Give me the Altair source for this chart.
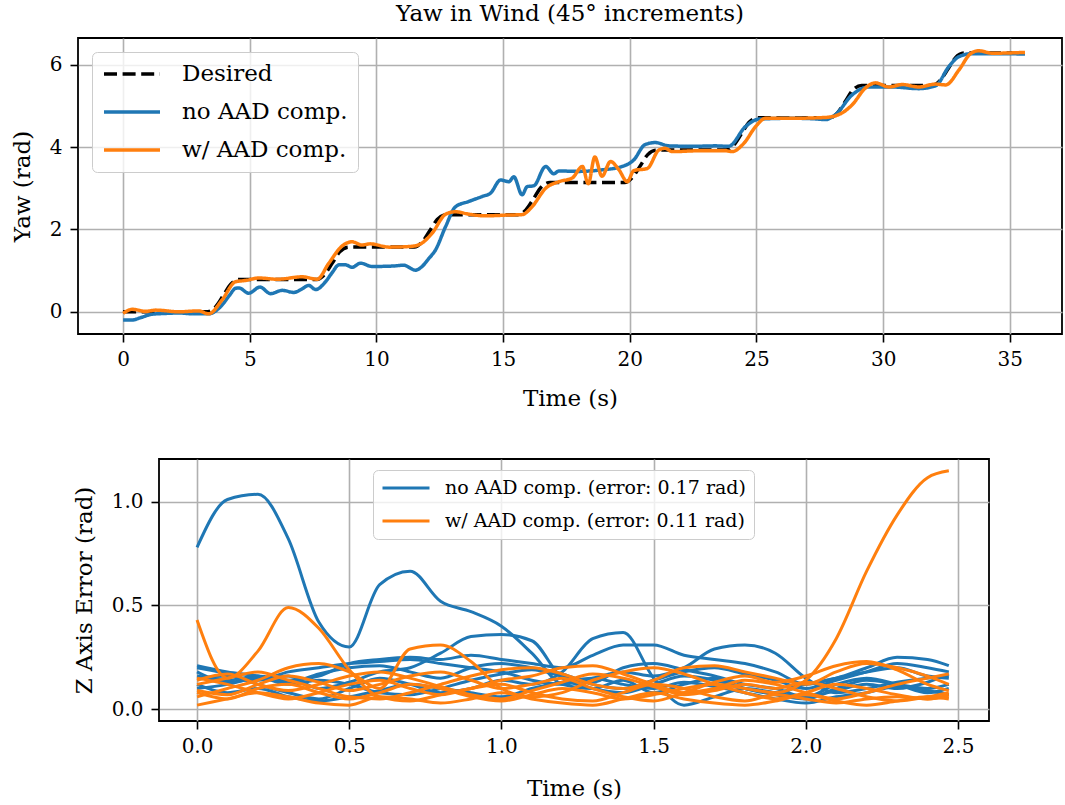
import altair as alt
import pandas as pd

FONT = "DejaVu Serif"
BLUE = "#1f77b4"
ORANGE = "#ff7f0e"

# ---------------- top panel data ----------------
DES_T = [0, 3.35, 3.65, 3.95, 4.25, 4.6,
         7.65, 7.95, 8.25, 8.55, 8.9,
         11.5, 11.8, 12.1, 12.4, 12.75,
         15.6, 15.9, 16.2, 16.5, 16.85,
         19.8, 20.1, 20.4, 20.7, 21.05,
         23.8, 24.1, 24.4, 24.7, 25.05,
         27.9, 28.2, 28.5, 28.8, 29.15,
         31.95, 32.25, 32.55, 32.85, 33.2, 35.6]
DES_Y = [0.0, 0.0, 0.12, 0.39, 0.67, 0.785,
         0.785, 0.905, 1.175, 1.455, 1.571,
         1.571, 1.691, 1.961, 2.241, 2.356,
         2.356, 2.476, 2.746, 3.026, 3.142,
         3.142, 3.262, 3.532, 3.812, 3.927,
         3.927, 4.047, 4.317, 4.597, 4.712,
         4.712, 4.832, 5.102, 5.382, 5.498,
         5.498, 5.618, 5.888, 6.168, 6.283, 6.283]

NO_AAD_T = [0, 0.36, 0.7, 1.15, 1.7, 2.2, 2.8, 3.38, 3.9, 4.2, 4.44, 4.57, 4.96, 5.4, 5.82,
            6.28, 6.74, 7.05, 7.33, 7.6, 7.99, 8.25, 8.52, 8.78, 9.04, 9.37, 9.83, 10.62,
            11.08, 11.54, 11.8, 12.05, 12.33, 12.73, 13.12, 13.65, 14.17, 14.5, 14.9, 15.23,
            15.42, 15.75, 15.95, 16.21, 16.68, 17.0, 17.2, 18.0, 18.8, 19.7, 20.16, 20.6,
            21.0, 21.54, 22.47, 23.4, 23.9, 24.57, 25.1, 26.4, 27.2, 27.73, 28.12, 28.78,
            29.44, 30.36, 31.4, 32.07, 32.6, 33.0, 33.5, 34.5, 35.6]
NO_AAD_Y = [-0.20, -0.20, -0.14, -0.06, -0.04, -0.03, -0.05, -0.05, 0.16, 0.40, 0.57, 0.58,
            0.45, 0.60, 0.44, 0.52, 0.47, 0.55, 0.64, 0.54, 0.73, 0.95, 1.14, 1.14, 1.08,
            1.18, 1.10, 1.11, 1.13, 1.01, 1.10, 1.28, 1.50, 2.07, 2.55, 2.68, 2.80, 2.88,
            3.20, 3.16, 3.28, 2.84, 3.04, 3.06, 3.53, 3.35, 3.42, 3.41, 3.44, 3.53, 3.69,
            4.06, 4.11, 4.03, 4.02, 4.03, 4.02, 4.50, 4.68, 4.70, 4.69, 4.67, 4.79, 5.27,
            5.46, 5.46, 5.42, 5.49, 5.96, 6.20, 6.27, 6.27, 6.26]

W_AAD_T = [0, 0.36, 0.89, 1.3, 2.2, 2.98, 3.38, 3.9, 4.44, 4.83, 5.36, 6.1, 7.07, 7.66,
           8.12, 8.65, 9.04, 9.43, 9.75, 10.5, 11.4, 11.8, 12.2, 12.73, 13.12, 13.65, 14.3,
           15.2, 15.75, 16.14, 16.68, 17.2, 17.73, 18.13, 18.36, 18.62, 18.9, 19.24, 19.57,
           19.9, 20.16, 20.69, 21.15, 21.4, 21.67, 22.7, 23.78, 24.04, 24.5, 24.97, 25.36,
           26.4, 27.73, 28.38, 28.78, 29.31, 29.7, 30.23, 30.76, 31.4, 32.07, 32.47, 33.0,
           33.45, 33.77, 34.3, 35.6]
W_AAD_Y = [-0.04, 0.06, 0.01, 0.04, 0.0, 0.02, -0.05, 0.28, 0.73, 0.76, 0.82, 0.79, 0.85,
           0.79, 1.18, 1.60, 1.70, 1.62, 1.65, 1.57, 1.59, 1.67, 1.91, 2.37, 2.43, 2.37,
           2.33, 2.35, 2.36, 2.55, 3.00, 3.16, 3.25, 3.53, 3.11, 3.76, 3.29, 3.65, 3.45,
           3.16, 3.43, 3.48, 3.93, 3.97, 3.89, 3.91, 3.91, 3.89, 4.09, 4.50, 4.70, 4.70,
           4.72, 4.83, 5.03, 5.44, 5.56, 5.46, 5.52, 5.46, 5.53, 5.51, 5.88, 6.27, 6.34,
           6.28, 6.30]

TOP_SERIES = ["Desired", "no AAD comp.", "w/ AAD comp."]

# ---------------- bottom panel data ----------------
ERR_T = [0.0, 0.1, 0.2, 0.3, 0.4, 0.5, 0.6, 0.7, 0.8, 0.9, 1.0, 1.1, 1.2,
         1.3, 1.4, 1.5, 1.6, 1.7, 1.8, 1.9, 2.0, 2.1, 2.2, 2.3, 2.4, 2.47]

NO_AAD_ERR = [
    [0.78, 1.01, 1.035, 0.82, 0.42, 0.30, 0.60, 0.665, 0.52, 0.47, 0.40, 0.27, 0.12,
     0.10, 0.14, 0.08, 0.12, 0.15, 0.10, 0.07, 0.05, 0.10, 0.14, 0.12, 0.10, 0.12],
    [0.18, 0.13, 0.15, 0.16, 0.10, 0.13, 0.18, 0.20, 0.27, 0.35, 0.36, 0.33, 0.15,
     0.10, 0.08, 0.12, 0.16, 0.14, 0.10, 0.08, 0.12, 0.15, 0.18, 0.20, 0.16, 0.15],
    [0.20, 0.17, 0.12, 0.08, 0.05, 0.10, 0.15, 0.12, 0.08, 0.10, 0.14, 0.12, 0.18,
     0.34, 0.37, 0.15, 0.02, 0.06, 0.10, 0.08, 0.06, 0.12, 0.15, 0.12, 0.08, 0.10],
    [0.15, 0.16, 0.14, 0.18, 0.20, 0.22, 0.23, 0.24, 0.22, 0.20, 0.18, 0.14, 0.12,
     0.15, 0.18, 0.16, 0.20, 0.29, 0.31, 0.27, 0.15, 0.08, 0.10, 0.13, 0.15, 0.16],
    [0.16, 0.14, 0.16, 0.14, 0.16, 0.22, 0.24, 0.25, 0.24, 0.26, 0.24, 0.22, 0.20,
     0.26, 0.31, 0.31, 0.26, 0.24, 0.22, 0.18, 0.12, 0.15, 0.20, 0.25, 0.24, 0.21],
    [0.10, 0.12, 0.15, 0.13, 0.17, 0.20, 0.21, 0.18, 0.15, 0.20, 0.22, 0.20, 0.17,
     0.12, 0.10, 0.14, 0.18, 0.20, 0.17, 0.14, 0.10, 0.14, 0.18, 0.22, 0.20, 0.18],
    [0.12, 0.08, 0.10, 0.06, 0.04, 0.06, 0.09, 0.12, 0.10, 0.08, 0.06, 0.10, 0.13,
     0.15, 0.12, 0.10, 0.13, 0.11, 0.08, 0.05, 0.03, 0.06, 0.08, 0.11, 0.09, 0.07],
    [0.21, 0.18, 0.16, 0.12, 0.14, 0.12, 0.08, 0.07, 0.10, 0.14, 0.17, 0.19, 0.16,
     0.13, 0.20, 0.22, 0.19, 0.16, 0.12, 0.10, 0.06, 0.09, 0.12, 0.10, 0.13, 0.17],
]

W_AAD_ERR = [
    [0.08, 0.05, 0.10, 0.12, 0.08, 0.05, 0.08, 0.12, 0.10, 0.06, 0.04, 0.07, 0.10,
     0.08, 0.05, 0.07, 0.10, 0.12, 0.10, 0.08, 0.14, 0.34, 0.665, 0.935, 1.115, 1.148],
    [0.43, 0.15, 0.28, 0.49, 0.39, 0.19, 0.06, 0.04, 0.07, 0.10, 0.12, 0.08, 0.05,
     0.04, 0.08, 0.12, 0.10, 0.06, 0.04, 0.07, 0.05, 0.03, 0.05, 0.06, 0.05, 0.06],
    [0.06, 0.10, 0.14, 0.20, 0.22, 0.18, 0.10, 0.29, 0.31, 0.23, 0.10, 0.06, 0.08,
     0.14, 0.18, 0.20, 0.17, 0.12, 0.08, 0.05, 0.08, 0.12, 0.10, 0.07, 0.05, 0.07],
    [0.15, 0.12, 0.08, 0.05, 0.08, 0.12, 0.14, 0.10, 0.07, 0.10, 0.14, 0.16, 0.20,
     0.21, 0.17, 0.12, 0.08, 0.10, 0.14, 0.12, 0.08, 0.05, 0.08, 0.12, 0.15, 0.17],
    [0.12, 0.15, 0.18, 0.14, 0.10, 0.06, 0.05, 0.08, 0.12, 0.16, 0.19, 0.20, 0.17,
     0.12, 0.10, 0.14, 0.20, 0.21, 0.18, 0.15, 0.12, 0.18, 0.22, 0.20, 0.16, 0.12],
    [0.02, 0.05, 0.08, 0.06, 0.03, 0.02, 0.06, 0.05, 0.03, 0.05, 0.08, 0.05, 0.03,
     0.02, 0.05, 0.08, 0.05, 0.03, 0.02, 0.04, 0.07, 0.04, 0.02, 0.04, 0.06, 0.05],
    [0.09, 0.07, 0.12, 0.16, 0.13, 0.09, 0.12, 0.16, 0.18, 0.14, 0.10, 0.12, 0.15,
     0.10, 0.06, 0.04, 0.08, 0.13, 0.16, 0.13, 0.16, 0.21, 0.23, 0.19, 0.12, 0.09],
    [0.14, 0.17, 0.12, 0.09, 0.12, 0.16, 0.18, 0.15, 0.11, 0.07, 0.05, 0.09, 0.13,
     0.17, 0.15, 0.11, 0.07, 0.09, 0.12, 0.10, 0.13, 0.10, 0.06, 0.04, 0.06, 0.08],
]

ERR_LABELS = ["no AAD comp. (error: 0.17 rad)", "w/ AAD comp. (error: 0.11 rad)"]

# ---------------- build tables ----------------
rows = []
for name, ts, ys in [(TOP_SERIES[0], DES_T, DES_Y), (TOP_SERIES[1], NO_AAD_T, NO_AAD_Y),
                     (TOP_SERIES[2], W_AAD_T, W_AAD_Y)]:
    for t, y in zip(ts, ys):
        rows.append({"series": name, "t": t, "y": y, "k": len(rows)})
top_df = pd.DataFrame(rows)

rows = []
for gi, (lab, runs) in enumerate([(ERR_LABELS[0], NO_AAD_ERR), (ERR_LABELS[1], W_AAD_ERR)]):
    for ri, vals in enumerate(runs):
        for t, e in zip(ERR_T, vals):
            rows.append({"grp": lab, "run": f"{gi}-{ri}", "t": t, "e": e})
bot_df = pd.DataFrame(rows)

# ---------------- top chart ----------------
top_legend = alt.Legend(
    title=None, orient="none", legendX=14, legendY=14,
    symbolType="stroke", symbolSize=3136, symbolStrokeWidth=3.5,
    labelFont=FONT, labelFontSize=23, labelColor="black", labelOffset=20, labelLimit=600,
    clipHeight=24, rowPadding=14, padding=10,
    fillColor="rgba(255,255,255,0.8)", strokeColor="#cccccc", cornerRadius=5,
)

top = alt.Chart(top_df).mark_line(strokeWidth=3.5, interpolate="monotone").encode(
    x=alt.X("t:Q", scale=alt.Scale(domain=[-1.78, 37.06], nice=False, zero=False),
            axis=alt.Axis(values=[0, 5, 10, 15, 20, 25, 30, 35], title="Time (s)",
                          titlePadding=18)),
    y=alt.Y("y:Q", scale=alt.Scale(domain=[-0.54, 6.65], nice=False, zero=False),
            axis=alt.Axis(values=[0, 2, 4, 6], title="Yaw (rad)")),
    color=alt.Color("series:N", scale=alt.Scale(domain=TOP_SERIES, range=["black", BLUE, ORANGE]),
                    legend=top_legend),
    strokeDash=alt.StrokeDash("series:N", scale=alt.Scale(domain=TOP_SERIES,
                                                          range=[[13, 5.6], [1, 0], [1, 0]]),
                              legend=top_legend),
    order=alt.Order("k:Q"),
).properties(
    width=984, height=296,
    title=alt.TitleParams("Yaw in Wind (45° increments)", anchor="middle", font=FONT,
                          fontSize=23, fontWeight="normal", color="black", offset=12),
)

# ---------------- bottom chart ----------------
bot = alt.Chart(bot_df).mark_line(strokeWidth=3, interpolate="monotone").encode(
    x=alt.X("t:Q", scale=alt.Scale(domain=[-0.125, 2.602], nice=False, zero=False),
            axis=alt.Axis(values=[0, 0.5, 1.0, 1.5, 2.0, 2.5], format=".1f", title="Time (s)",
                          titlePadding=21)),
    y=alt.Y("e:Q", scale=alt.Scale(domain=[-0.0564, 1.205], nice=False, zero=False),
            axis=alt.Axis(values=[0, 0.5, 1.0], format=".1f", title="Z Axis Error (rad)")),
    color=alt.Color("grp:N", scale=alt.Scale(domain=ERR_LABELS, range=[BLUE, ORANGE]),
                    legend=alt.Legend(
                        title=None, orient="none", legendX=295, legendY=11,
                        symbolType="stroke", symbolSize=2209, symbolStrokeWidth=3,
                        labelFont=FONT, labelFontSize=19, labelColor="black", labelOffset=14,
                        labelLimit=600, clipHeight=20, rowPadding=13, padding=8,
                        fillColor="rgba(255,255,255,0.8)", strokeColor="#cccccc", cornerRadius=5)),
    detail="run:N",
).properties(width=830, height=262)

spacer = alt.Chart(pd.DataFrame({"a": [0]})).mark_point(opacity=0).encode(
    x=alt.value(0), y=alt.value(0)
).properties(width=81, height=262, view=alt.ViewBackground(stroke="transparent"))

bottom_row = alt.hconcat(spacer, bot, spacing=0, bounds="flush")

chart = alt.vconcat(top, bottom_row, spacing=125, bounds="flush").resolve_scale(
    color="independent", strokeDash="independent"
).resolve_legend(color="independent", strokeDash="independent").properties(
    padding={"left": 10, "top": 2, "right": 0, "bottom": 2}
).configure_view(
    stroke="black", strokeWidth=1.8
).configure_axis(
    grid=True, gridColor="#b0b0b0", gridWidth=1.6, domain=False,
    tickColor="black", tickSize=8, tickWidth=1.6,
    labelFont=FONT, labelFontSize=20, labelColor="black", labelPadding=7,
    titleFont=FONT, titleFontSize=23, titleFontWeight="normal", titleColor="black",
    titlePadding=16,
).configure_axisY(labelPadding=8, titlePadding=15)

chart.save("out.html", embed_options={"renderer": "svg", "actions": False})
